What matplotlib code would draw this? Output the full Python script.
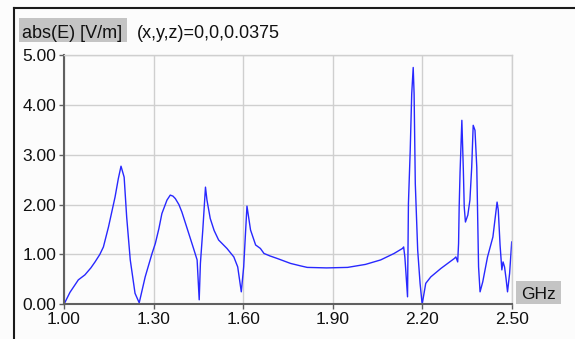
"""
abs(E) at (x,y,z)=0,0,0.0375 versus frequency, redrawn as a line plot
in the style of the field-probe viewer (grey label boxes, light grid).
"""

import matplotlib
matplotlib.use("Agg")
import matplotlib.pyplot as plt
from matplotlib.patches import Rectangle
from matplotlib.lines import Line2D

# frequency [GHz] and |E| [V/m]
freq = [1.000, 1.020, 1.048, 1.070, 1.090, 1.104, 1.120, 1.132, 1.149, 1.160,
        1.171, 1.182, 1.191, 1.2015, 1.210, 1.222, 1.238, 1.252, 1.272, 1.295,
        1.306, 1.318, 1.328, 1.345, 1.356, 1.365, 1.373, 1.385, 1.395, 1.418,
        1.434, 1.446, 1.453, 1.457, 1.465, 1.474, 1.479, 1.490, 1.503, 1.518,
        1.546, 1.569, 1.582, 1.594, 1.602, 1.613, 1.625, 1.642, 1.658, 1.670,
        1.690, 1.714, 1.759, 1.793, 1.815, 1.880, 1.950, 2.010, 2.061, 2.106,
        2.134, 2.138, 2.142, 2.145, 2.151, 2.154, 2.160, 2.165, 2.170, 2.173,
        2.177, 2.185, 2.193, 2.200, 2.212, 2.229, 2.263, 2.308, 2.313, 2.319,
        2.322, 2.324, 2.327, 2.333, 2.338, 2.341, 2.345, 2.353, 2.360, 2.366,
        2.371, 2.377, 2.383, 2.386, 2.389, 2.394, 2.403, 2.419, 2.437, 2.451,
        2.455, 2.461, 2.467, 2.471, 2.476, 2.481, 2.486, 2.493, 2.500]
abs_e = [0.00, 0.24, 0.49, 0.59, 0.73, 0.85, 1.00, 1.15, 1.55, 1.85,
         2.15, 2.52, 2.77, 2.55, 1.75, 0.89, 0.22, 0.03, 0.55, 1.02,
         1.22, 1.52, 1.82, 2.09, 2.19, 2.17, 2.12, 2.00, 1.85, 1.42,
         1.12, 0.89, 0.09, 0.82, 1.49, 2.35, 2.09, 1.72, 1.48, 1.29,
         1.12, 0.95, 0.75, 0.25, 0.75, 1.97, 1.49, 1.19, 1.12, 1.02,
         0.97, 0.92, 0.82, 0.77, 0.74, 0.73, 0.74, 0.80, 0.89, 1.02,
         1.12, 1.15, 0.95, 0.69, 0.15, 2.02, 3.09, 4.22, 4.75, 4.22,
         2.42, 1.09, 0.42, 0.00, 0.42, 0.55, 0.72, 0.92, 0.95, 0.85,
         1.22, 1.95, 2.65, 3.69, 2.69, 1.95, 1.65, 1.79, 2.09, 2.75,
         3.59, 3.49, 2.75, 1.75, 0.75, 0.25, 0.45, 0.95, 1.35, 2.05,
         1.89, 1.19, 0.69, 0.85, 0.75, 0.52, 0.25, 0.62, 1.25]

x_ticks = [1.00, 1.30, 1.60, 1.90, 2.20, 2.50]
y_ticks = [0.0, 1.0, 2.0, 3.0, 4.0, 5.0]

W, H = 575, 339
BG = "#fcfcfc"
GRID = "#cfcfcf"
AXIS = "#606060"

plt.rcParams["font.family"] = ["Liberation Sans", "DejaVu Sans"]

fig = plt.figure(figsize=(W / 100, H / 100), dpi=100, facecolor=BG)


def fx(px):
    return px / W


def fy(py):
    return 1 - py / H


# plot area, pixel box (64,55)-(511.7,304.3)
ax = fig.add_axes([fx(64), fy(304.3), fx(511.7) - fx(64), fy(55) - fy(304.3)])
ax.set_facecolor(BG)
ax.plot(freq, abs_e, color="#2828ff", lw=1.0)

ax.set_xlim(1.0, 2.5)
ax.set_ylim(0.0, 5.0)
ax.set_xticks(x_ticks)
ax.set_xticklabels([f"{v:.2f}" for v in x_ticks])
ax.set_yticks(y_ticks)
ax.set_yticklabels([f"{v:.2f}" for v in y_ticks])
ax.grid(True, color=GRID, lw=1.0)
ax.set_axisbelow(True)
ax.tick_params(direction="out", length=3.5, width=1, color=AXIS,
               labelsize=12.5, pad=2, labelcolor="#111111")

for side in ("top", "right"):
    ax.spines[side].set_color(GRID)
    ax.spines[side].set_linewidth(1.0)
for side in ("left", "bottom"):
    ax.spines[side].set_color(AXIS)
    ax.spines[side].set_linewidth(1.5)

# window frame (top and left edges visible)
fig.add_artist(Line2D([fx(14), 1.0], [fy(8), fy(8)], color="#1a1a1a", lw=1.5))
fig.add_artist(Line2D([fx(14), fx(14)], [fy(8), 0.0], color="#1a1a1a", lw=1.5))

# grey label boxes
fig.add_artist(Rectangle((fx(19), fy(42)), fx(127) - fx(19), fy(18) - fy(42),
                         facecolor="#c4c4c4", edgecolor="none"))
fig.text(fx(22), fy(37.5), "abs(E) [V/m]", fontsize=13, va="baseline",
         color="#111111")
fig.text(fx(137), fy(37.5), "(x,y,z)=0,0,0.0375", fontsize=13,
         va="baseline", color="#111111")

fig.add_artist(Rectangle((fx(516), fy(304)), fx(561) - fx(516), fy(281) - fy(304),
                         facecolor="#c4c4c4", edgecolor="none"))
fig.text(fx(521.5), fy(299), "GHz", fontsize=12.5, va="baseline", color="#111111")

fig.savefig("out.png", dpi=100, facecolor=BG)
